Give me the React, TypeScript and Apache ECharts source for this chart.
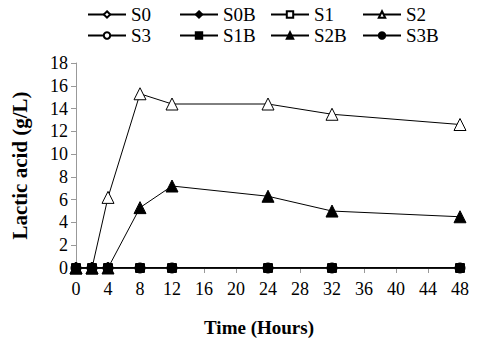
import React, { useEffect, useRef } from "react";
import * as echarts from "echarts";

const hours = [0, 2, 4, 8, 12, 24, 32, 48];
const s0 = [0, 0, 0, 0, 0, 0, 0, 0];
const s0b = [0, 0, 0, 0, 0, 0, 0, 0];
const s1 = [0, 0, 0, 0, 0, 0, 0, 0];
const s2 = [0, 0, 6.2, 15.3, 14.4, 14.4, 13.5, 12.6];
const s3 = [0, 0, 0, 0, 0, 0, 0, 0];
const s1b = [0, 0, 0, 0, 0, 0, 0, 0];
const s2b = [0, 0, 0, 5.3, 7.2, 6.3, 5.0, 4.5];
const s3b = [0, 0, 0, 0, 0, 0, 0, 0];

const legendRow1 = ["S0", "S0B", "S1", "S2"];
const legendRow2 = ["S3", "S1B", "S2B", "S3B"];

const FONT = "serif";

export default function App() {
  const ref = useRef<HTMLDivElement>(null);
  useEffect(() => {
    if (!ref.current) return;
    const chart = echarts.init(ref.current, undefined, { renderer: "svg" });
    const pair = (ys: number[]) => hours.map((h, i) => [h, ys[i]]);
    const mk = (name: string, ys: number[], symbol: string, filled: boolean, size: number, z: number) => ({
      name,
      type: "line",
      data: pair(ys),
      symbol,
      symbolSize: size,
      showSymbol: true,
      z,
      lineStyle: { color: "#000", width: 1 },
      itemStyle: {
        color: filled ? "#000" : "#fff",
        borderColor: "#000",
        borderWidth: 1,
      },
    });
    const colX = [87, 179, 270, 362];
    const legends: any[] = [];
    [legendRow1, legendRow2].forEach((row, r) => {
      row.forEach((n, c) => {
        legends.push({
          data: [n],
          left: colX[c],
          top: r === 0 ? 5 : 26,
          padding: 0,
          itemWidth: 38,
          itemHeight: 8,
          itemGap: 0,
          textStyle: { fontFamily: FONT, fontSize: 19, color: "#000" },
        });
      });
    });
    chart.setOption({
      animation: false,
      backgroundColor: "#fff",
      textStyle: { fontFamily: FONT },
      legend: legends,
      grid: { left: 76, right: 20, top: 63, bottom: 78, containLabel: false },
      xAxis: {
        type: "value",
        min: 0,
        max: 48,
        interval: 4,
        name: "Time (Hours)",
        nameLocation: "middle",
        nameGap: 50,
        nameTextStyle: { fontFamily: FONT, fontSize: 19, fontWeight: "bold", color: "#000", padding: [0, 18, 0, 0] },
        axisLine: { lineStyle: { color: "#999", width: 1 } },
        axisTick: { show: true, length: 5, lineStyle: { color: "#999" } },
        axisLabel: { fontFamily: FONT, fontSize: 18, color: "#000", margin: 12 },
        splitLine: { show: false },
      },
      yAxis: {
        type: "value",
        min: 0,
        max: 18,
        interval: 2,
        name: "Lactic acid (g/L)",
        nameLocation: "middle",
        nameGap: 46,
        nameTextStyle: { fontFamily: FONT, fontSize: 21, fontWeight: "bold", color: "#000" },
        axisLine: { show: true, lineStyle: { color: "#999", width: 1 } },
        axisTick: { show: true, length: 5, lineStyle: { color: "#999" } },
        axisLabel: { fontFamily: FONT, fontSize: 18, color: "#000", margin: 8 },
        splitLine: { show: false },
      },
      series: [
        mk("S0", s0, "diamond", false, 10, 2),
        mk("S0B", s0b, "diamond", true, 10, 2),
        mk("S1", s1, "rect", false, 9, 2),
        mk("S2", s2, "triangle", false, 12, 3),
        mk("S3", s3, "circle", false, 9, 2),
        mk("S1B", s1b, "rect", true, 8, 2),
        mk("S3B", s3b, "circle", true, 10, 4),
        mk("S2B", s2b, "triangle", true, 12, 5),
      ],
    });
    return () => chart.dispose();
  }, []);
  return <div ref={ref} style={{ width: 480, height: 346, position: "absolute", left: 0, top: 0 }} />;
}
